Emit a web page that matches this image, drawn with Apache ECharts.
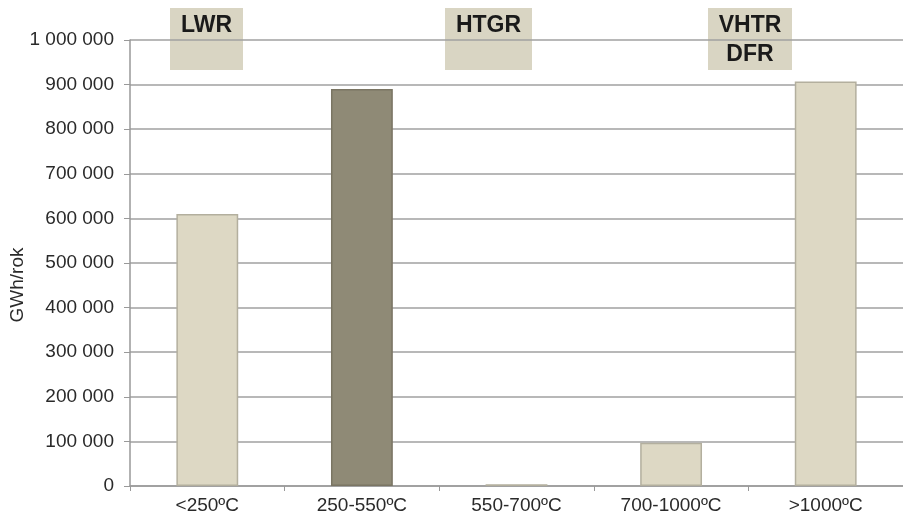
<!DOCTYPE html>
<html>
<head>
<meta charset="utf-8">
<script src="https://cdn.jsdelivr.net/npm/echarts@6/dist/echarts.min.js"></script>
<style>html,body{margin:0;padding:0;background:#fff}#c{width:903px;height:517px}</style>
</head>
<body>
<div id="c"></div>
<script>
var categories = ['<250ºC', '250-550ºC', '550-700ºC', '700-1000ºC', '>1000ºC'];
var values = [610000, 890000, 4000, 97000, 907000];
var reactorLabels = ['LWR', 'HTGR', 'VHTR\nDFR'];
var yAxisName = 'GWh/rok';

var light = '#ddd8c4', dark = '#8f8a76';
var fontFam = '"Liberation Sans", Arial, sans-serif';
var chart = echarts.init(document.getElementById('c'));
var boxes = [
  {x: 170, w: 73},
  {x: 445, w: 87},
  {x: 708, w: 84}
];
var graphics = boxes.map(function (b, i) {
  return {
    type: 'group', left: b.x, top: 8, z: 100,
    children: [
      {type: 'rect', shape: {x: 0, y: 0, width: b.w, height: 62}, style: {fill: '#d9d5c3'}},
      {type: 'text', x: b.w / 2, y: 3, style: {text: reactorLabels[i], fill: '#1a1a1a', font: 'bold 23px ' + fontFam, align: 'center', verticalAlign: 'top', lineHeight: 29}}
    ]
  };
});
chart.setOption({
  animation: false,
  grid: {left: 130, right: 0, top: 40, bottom: 31, containLabel: false, outerBoundsMode: 'none'},
  graphic: graphics,
  xAxis: {
    type: 'category', data: categories,
    axisLine: {lineStyle: {color: '#999', width: 1.5}},
    axisTick: {show: true, length: 5, lineStyle: {color: '#999'}},
    axisLabel: {color: '#2a2a2a', fontSize: 19, fontFamily: fontFam, margin: 10}
  },
  yAxis: {
    type: 'value', min: 0, max: 1000000, interval: 100000,
    name: yAxisName, nameLocation: 'middle', nameGap: 103, nameMoveOverlap: false,
    nameTextStyle: {color: '#2a2a2a', fontSize: 19, fontFamily: fontFam, padding: [0, 44, 0, 0]},
    axisLine: {show: true, lineStyle: {color: '#999', width: 1.5}},
    axisTick: {show: true, length: 6, lineStyle: {color: '#999'}},
    axisLabel: {color: '#2a2a2a', fontSize: 19, fontFamily: fontFam, margin: 16,
      formatter: function (v) { return String(v).replace(/\B(?=(\d{3})+(?!\d))/g, ' '); }},
    splitLine: {lineStyle: {color: '#a0a0a0', width: 1.5}}
  },
  series: [{
    type: 'bar', barWidth: '40%',
    data: values.map(function (v, i) {
      return {value: v, itemStyle: {color: i === 1 ? dark : light, borderColor: i === 1 ? '#7a7563' : '#b3af9e', borderWidth: 1.5}};
    })
  }]
});
</script>
</body>
</html>
